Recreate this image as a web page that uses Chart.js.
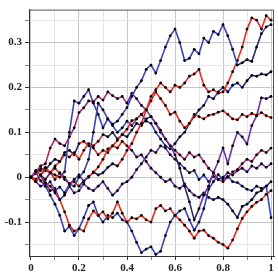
<!DOCTYPE html>
<html>
<head>
<meta charset="utf-8">
<script src="https://cdn.jsdelivr.net/npm/chart.js@4/dist/chart.umd.min.js"></script>
<style>
  html, body { margin: 0; padding: 0; background: #fff; }
  #grafico { display: block; }
</style>
</head>
<body>
<canvas id="grafico" width="278" height="278"></canvas>
<script>
// passos do tempo (eixo x)
var passos = [0, 0.02, 0.04, 0.06, 0.08, 0.1, 0.12, 0.14, 0.16, 0.18,
  0.2, 0.22, 0.24, 0.26, 0.28, 0.3, 0.32, 0.34, 0.36, 0.38,
  0.4, 0.42, 0.44, 0.46, 0.48, 0.5, 0.52, 0.54, 0.56, 0.58,
  0.6, 0.62, 0.64, 0.66, 0.68, 0.7, 0.72, 0.74, 0.76, 0.78,
  0.8, 0.82, 0.84, 0.86, 0.88, 0.9, 0.92, 0.94, 0.96, 0.98, 1]

// caminhadas
var caminho1 = [0, 0.012, -0.008, -0.02, -0.01, -0.03, -0.022, -0.035, -0.015, -0.02,
  0, 0.012, 0.04, 0.1, 0.165, 0.15, 0.13, 0.118, 0.125, 0.14,
  0.155, 0.18, 0.2, 0.215, 0.24, 0.25, 0.232, 0.26, 0.29, 0.315,
  0.33, 0.3, 0.26, 0.265, 0.285, 0.275, 0.31, 0.3, 0.325, 0.318,
  0.34, 0.315, 0.285, 0.25, 0.255, 0.262, 0.258, 0.29, 0.32, 0.335, 0.34]
var caminho2 = [0, 0.015, 0.005, 0.02, 0.01, -0.005, 0.01, 0, -0.015, -0.005,
  0.005, -0.01, 0.002, 0.01, 0.023, 0.04, 0.063, 0.07, 0.082, 0.095,
  0.107, 0.126, 0.13, 0.14, 0.15, 0.18, 0.195, 0.21, 0.2, 0.19,
  0.205, 0.2, 0.21, 0.225, 0.23, 0.24, 0.205, 0.19, 0.195, 0.187,
  0.19, 0.21, 0.235, 0.26, 0.29, 0.33, 0.355, 0.35, 0.33, 0.36, 0.35]
var caminho3 = [0, -0.01, 0.005, 0.015, 0.01, 0.02, 0.008, -0.005, -0.015, -0.01,
  -0.02, -0.008, 0, 0.012, 0.005, 0.01, 0.022, 0.03, 0.025, 0.04,
  0.06, 0.075, 0.1, 0.12, 0.15, 0.17, 0.19, 0.175, 0.16, 0.14,
  0.145, 0.125, 0.11, 0.12, 0.14, 0.135, 0.13, 0.138, 0.14, 0.145,
  0.148, 0.14, 0.13, 0.128, 0.14, 0.135, 0.142, 0.138, 0.144, 0.137, 0.133]
var caminho4 = [0, 0.012, 0.025, 0.03, 0.065, 0.085, 0.075, 0.07, 0.09, 0.11,
  0.144, 0.155, 0.17, 0.168, 0.18, 0.172, 0.19, 0.182, 0.175, 0.18,
  0.165, 0.187, 0.175, 0.16, 0.15, 0.135, 0.12, 0.105, 0.085, 0.07,
  0.05, 0.02, -0.02, -0.055, -0.095, -0.07, -0.04, -0.02, 0.01, 0.035,
  0.065, 0.03, 0.07, 0.1, 0.09, 0.074, 0.115, 0.137, 0.177, 0.175, 0.18]
var caminho5 = [0, -0.01, 0.005, -0.005, 0.01, 0.005, 0, 0.012, 0.1, 0.17,
  0.165, 0.18, 0.195, 0.165, 0.14, 0.11, 0.13, 0.115, 0.1, 0.11,
  0.125, 0.115, 0.13, 0.14, 0.125, 0.12, 0.1, 0.085, 0.07, 0.063,
  0.075, 0.09, 0.1, 0.12, 0.135, 0.15, 0.16, 0.18, 0.175, 0.19,
  0.2, 0.19, 0.205, 0.21, 0.2, 0.215, 0.227, 0.225, 0.23, 0.228, 0.235]
var caminho6 = [0, 0.008, 0.015, 0.022, 0.01, 0.025, 0.035, 0.05, 0.045, 0.055,
  0.04, 0.06, 0.075, 0.07, 0.08, 0.095, 0.09, 0.1, 0.085, 0.095,
  0.09, 0.105, 0.12, 0.115, 0.13, 0.135, 0.12, 0.1, 0.085, 0.07,
  0.06, 0.05, 0.04, 0.055, 0.045, 0.05, 0.035, 0.02, 0.01, -0.005,
  -0.01, 0, 0.012, 0.017, 0.03, 0.04, 0.035, 0.05, 0.06, 0.055, 0.065]
var caminho7 = [0, -0.01, -0.02, -0.015, -0.03, -0.025, -0.05, -0.04, -0.02, -0.035,
  -0.03, -0.015, -0.025, -0.03, -0.02, -0.01, -0.025, -0.04, -0.03, -0.015,
  -0.01, 0, 0.017, 0.03, 0.045, 0.06, 0.055, 0.07, 0.065, 0.05,
  0.04, 0.03, 0.02, 0.01, 0.015, -0.005, 0.005, -0.01, 0.002, -0.005,
  0, 0.01, 0.005, 0.015, 0.02, 0.012, 0.025, 0.02, 0.03, 0.022, 0.03]
var caminho8 = [0, -0.005, 0.005, -0.012, -0.02, -0.035, -0.05, -0.077, -0.107, -0.12,
  -0.115, -0.12, -0.093, -0.075, -0.085, -0.077, -0.093, -0.08, -0.055, -0.08,
  -0.1, -0.09, -0.093, -0.085, -0.095, -0.1, -0.07, -0.063, -0.075, -0.07,
  -0.085, -0.095, -0.107, -0.12, -0.136, -0.12, -0.118, -0.13, -0.136, -0.145,
  -0.15, -0.158, -0.14, -0.115, -0.092, -0.077, -0.065, -0.056, -0.05, -0.038, -0.03]
var caminho9 = [0, -0.01, 0.005, -0.02, -0.04, -0.06, -0.085, -0.12, -0.11, -0.13,
  -0.115, -0.09, -0.063, -0.055, -0.085, -0.1, -0.085, -0.09, -0.08, -0.095,
  -0.1, -0.12, -0.145, -0.168, -0.16, -0.155, -0.172, -0.165, -0.13, -0.1,
  -0.085, -0.075, -0.07, -0.095, -0.118, -0.1, -0.07, -0.027, -0.01, 0.006,
  -0.005, 0.002, -0.01, -0.012, -0.02, -0.027, -0.03, -0.02, -0.025, -0.02, -0.09]
var caminho10 = [0, 0.01, 0.02, 0.015, 0.03, 0.04, 0.035, 0.055, 0.06, 0.05,
  0.075, 0.08, 0.07, 0.065, 0.05, 0.06, 0.055, 0.07, 0.065, 0.08,
  0.07, 0.06, 0.045, 0.05, 0.035, 0.02, 0.01, 0, -0.01, -0.005,
  -0.02, -0.025, -0.015, -0.03, -0.04, -0.045, -0.035, -0.045, -0.05, -0.045,
  -0.05, -0.06, -0.075, -0.09, -0.065, -0.06, -0.05, -0.035, -0.03, -0.02, -0.01]

var caminhos = [caminho1, caminho2, caminho3, caminho4, caminho5,
  caminho6, caminho7, caminho8, caminho9, caminho10]

// rotulos dos eixos
var ticks_x = [0, 0.2, 0.4, 0.6, 0.8, 1]
var ticks_y = [-0.1, 0, 0.1, 0.2, 0.3]

// cores dos trechos (estilo)
var paleta = { r: '#e52d24', b: '#3b46b2', p: '#6a34a6', m: '#a2306e', k: '#2f2a6a' }
var trechos = [
  [['p', 5], ['b', 38], ['k', 5], ['b', 2]],
  [['r', 6], ['p', 6], ['r', 38]],
  [['r', 10], ['k', 8], ['r', 32]],
  [['m', 20], ['p', 10], ['k', 5], ['p', 15]],
  [['k', 6], ['b', 24], ['k', 6], ['b', 8], ['k', 6]],
  [['r', 15], ['k', 10], ['m', 25]],
  [['p', 30], ['b', 10], ['p', 10]],
  [['r', 50]],
  [['b', 50]],
  [['k', 10], ['r', 10], ['p', 15], ['k', 15]]
]

function corTrecho(n, idx) {
    var soma = 0
    var lista = trechos[n]
    for (let i = 0; i < lista.length; i++) {
        soma += lista[i][1]
        if (idx < soma) return paleta[lista[i][0]]
    }
    return paleta[lista[lista.length - 1][0]]
}

function ehMultiplo(v, passo) {
    return Math.abs(v / passo - Math.round(v / passo)) < 1e-6
}

var datasets = []
for (let n = 0; n < caminhos.length; n++) {
    datasets.push({
        data: caminhos[n].map((y, i) => ({ x: passos[i], y: y })),
        borderWidth: 1.6,
        pointRadius: 1.4,
        pointBackgroundColor: '#000',
        pointBorderWidth: 0,
        tension: 0,
        segment: {
            borderColor: (ctx) => corTrecho(n, ctx.p0DataIndex)
        }
    })
}

// moldura em cima e a direita
var moldura = {
    id: 'moldura',
    afterDraw(chart) {
        var a = chart.chartArea
        var c = chart.ctx
        c.save()
        c.strokeStyle = '#555'
        c.lineWidth = 1
        c.beginPath()
        c.moveTo(a.left, a.top + 0.5)
        c.lineTo(a.right - 0.5, a.top + 0.5)
        c.lineTo(a.right - 0.5, a.bottom)
        c.stroke()
        c.restore()
    }
}

var fonte = { family: 'Liberation Serif', size: 11, weight: 'bold' }

new Chart(document.getElementById('grafico'), {
    type: 'line',
    data: { datasets: datasets },
    options: {
        responsive: false,
        animation: false,
        devicePixelRatio: 1,
        layout: { padding: { top: 5, right: 3, left: 0, bottom: 0 } },
        plugins: { legend: { display: false }, tooltip: { enabled: false } },
        scales: {
            x: {
                type: 'linear',
                min: -0.0083,
                max: 1.0124,
                afterFit: (s) => { s.height = 22 },
                border: { color: '#333', width: 1 },
                grid: {
                    color: (ctx) => ehMultiplo(ctx.tick.value, 0.2) ? '#c6c6c6' : '#e6e6e6',
                    tickColor: (ctx) => ehMultiplo(ctx.tick.value, 0.2) ? '#333' : '#888',
                    tickLength: 4
                },
                ticks: {
                    stepSize: 0.1,
                    includeBounds: false,
                    autoSkip: false,
                    maxRotation: 0,
                    padding: 2,
                    color: '#222',
                    font: fonte,
                    callback: (v) => ticks_x.some((t) => Math.abs(t - v) < 1e-6) ? String(Math.round(v * 10) / 10) : ''
                }
            },
            y: {
                min: -0.1755,
                max: 0.3735,
                afterFit: (s) => { s.width = 29 },
                border: { color: '#333', width: 1 },
                grid: {
                    color: (ctx) => ehMultiplo(ctx.tick.value, 0.1) ? '#c6c6c6' : '#e6e6e6',
                    tickColor: (ctx) => ehMultiplo(ctx.tick.value, 0.1) ? '#333' : '#888',
                    tickLength: 4
                },
                ticks: {
                    stepSize: 0.05,
                    includeBounds: false,
                    autoSkip: false,
                    padding: 3,
                    color: '#222',
                    font: fonte,
                    callback: (v) => ticks_y.some((t) => Math.abs(t - v) < 1e-6) ? String(Math.round(v * 10) / 10) : ''
                }
            }
        }
    },
    plugins: [moldura]
})
</script>
</body>
</html>
